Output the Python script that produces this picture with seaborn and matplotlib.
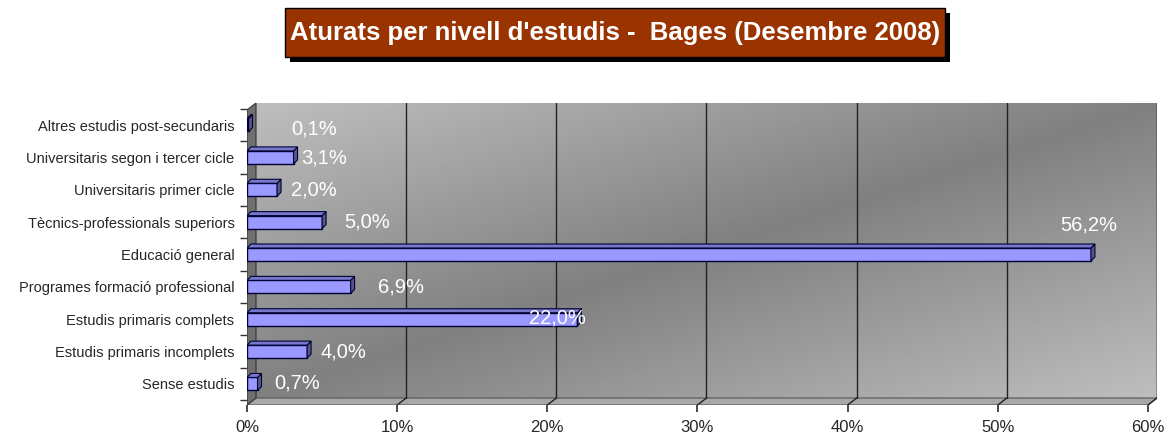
import numpy as np
import pandas as pd
import seaborn as sns
import matplotlib.pyplot as plt
from matplotlib.patches import Rectangle, Polygon

# data (percent of unemployed, Bages Dec 2008)
categories = ["Altres estudis post-secundaris", "Universitaris segon i tercer cicle",
              "Universitaris primer cicle", "Tècnics-professionals superiors",
              "Educació general", "Programes formació professional",
              "Estudis primaris complets", "Estudis primaris incomplets", "Sense estudis"]
values = [0.1, 3.1, 2.0, 5.0, 56.2, 6.9, 22.0, 4.0, 0.7]
value_labels = ["0,1%", "3,1%", "2,0%", "5,0%", "56,2%", "6,9%", "22,0%", "4,0%", "0,7%"]
xticks = [0, 10, 20, 30, 40, 50, 60]
xtick_labels = ["0%", "10%", "20%", "30%", "40%", "50%", "60%"]
title = "Aturats per nivell d'estudis -  Bages (Desembre 2008)"

# label placement in pixels from bar end (dy: down is positive), Excel put them all over
label_dx = [43, 8, 14, 22, -31, 27, -48, 13, 17]
label_dy = [4, 1, 0, 0, -29, 0, -1, 0, -1]

sns.set_theme(style="white")
plt.rcParams['font.family'] = ['Liberation Sans', 'DejaVu Sans']

df = pd.DataFrame({"cat": categories, "val": values})

W, H = 1170, 441
fig = plt.figure(figsize=(W / 100, H / 100), dpi=100)
fig.patch.set_facecolor("white")

# axes covers back wall 247..1157 px, 103..405 px
ax = fig.add_axes([247 / W, 1 - 405 / H, 910 / W, 302 / H])
ax.set_xlim(0, 60.6)
ax.set_ylim(8.65, -0.68)

dx = 9 / 910
dy = 7 / 302

# gradient back wall: light at top-left / bottom-right, dark on the diagonal
gx, gy = np.meshgrid(np.linspace(0, 1, 300), np.linspace(0, 1, 120))
s = np.abs(gx + gy - 1)
grad = 128 + 62 * s
ax.imshow(grad, cmap="gray", vmin=0, vmax=255, extent=(dx, 1, dy, 1), origin="upper",
          transform=ax.transAxes, aspect="auto", zorder=0)

# floor and left side wall
ax.add_patch(Polygon([(0, 0), (1 - dx, 0), (1, dy), (dx, dy)], closed=True,
                     transform=ax.transAxes, facecolor="#a8a8a8", edgecolor="#555555",
                     lw=0.8, zorder=1))
ax.add_patch(Polygon([(0, 0), (dx, dy), (dx, 1), (0, 1 - dy)], closed=True,
                     transform=ax.transAxes, facecolor="#6f6f6f", edgecolor="#333333",
                     lw=0.8, zorder=1))

# gridlines on back wall + floor diagonals
for t in xticks[1:]:
    xa = t / 60.6
    ax.plot([xa + dx, xa + dx], [dy, 1], color="#222222", lw=1, transform=ax.transAxes, zorder=1.5)
    ax.plot([xa, xa + dx], [0, dy], color="#222222", lw=1, transform=ax.transAxes, zorder=1.5)
ax.plot([1, 1], [dy, 1], color="#333333", lw=1, transform=ax.transAxes, zorder=1.5)

sns.barplot(data=df, y="cat", x="val", orient="h", order=categories, width=0.4,
            color="#9999ff", saturation=1, edgecolor="#000033", linewidth=1, ax=ax, zorder=3)
ax.set_xlim(0, 60.6)
ax.set_ylim(8.65, -0.68)

# little 3D end cap on each bar
px = 60.6 / 910
slot = 9.33 / 302
for p in list(ax.patches):
    if not isinstance(p, Rectangle) or p.get_width() <= 0 or p.get_height() > 1:
        continue
    x0 = p.get_x()
    x1 = x0 + p.get_width()
    y0, h = p.get_y(), p.get_height()
    ax.add_patch(Polygon([(x1, y0), (x1 + 4 * px, y0 - 4 * slot), (x1 + 4 * px, y0 + h - 4 * slot),
                          (x1, y0 + h)], closed=True, facecolor="#55558a", edgecolor="#000033",
                         lw=0.8, zorder=3))
    ax.add_patch(Polygon([(x0, y0), (x0 + 4 * px, y0 - 4 * slot),
                          (x1 + 4 * px, y0 - 4 * slot), (x1, y0)], closed=True,
                         facecolor="#7777cc", edgecolor="#000033", lw=0.8, zorder=3))

for i, (v, lab) in enumerate(zip(values, value_labels)):
    ax.annotate(lab, xy=(v, i), xytext=(label_dx[i] * 0.72, -label_dy[i] * 0.72),
                textcoords="offset points", ha="left", va="center",
                color="white", fontsize=14.5, zorder=5)

for sp in ax.spines.values():
    sp.set_visible(False)
ax.set_xlabel("")
ax.set_ylabel("")
ax.set_xticks(xticks)
ax.set_xticklabels(xtick_labels, fontsize=12, family=['Liberation Sans Narrow', 'Liberation Sans'])
ax.tick_params(axis="x", length=5, color="#333333", direction="out", pad=6, bottom=True)
ax.set_yticks(range(len(categories)))
ax.set_yticklabels(categories, fontsize=10.5)
ax.tick_params(axis="y", length=0, pad=9)
ax.set_yticks(np.arange(-0.5, len(categories), 1), minor=True)
ax.tick_params(axis="y", which="minor", length=5, color="#333333", left=True)

# title box with drop shadow
bx0, by0, bw, bh = 285 / W, 1 - 57 / H, 660 / W, 49 / H
fig.patches.append(Rectangle((bx0 + 5 / W, by0 - 5 / H), bw, bh, transform=fig.transFigure,
                             facecolor="black", edgecolor="none", zorder=1))
fig.patches.append(Rectangle((bx0, by0), bw, bh, transform=fig.transFigure,
                             facecolor="#993300", edgecolor="black", lw=1, zorder=2))
fig.text(615 / W, 1 - 33 / H, title, ha="center", va="center", color="white",
         fontsize=18.5, fontweight="bold", zorder=3)

fig.savefig("out.png", dpi=100)
